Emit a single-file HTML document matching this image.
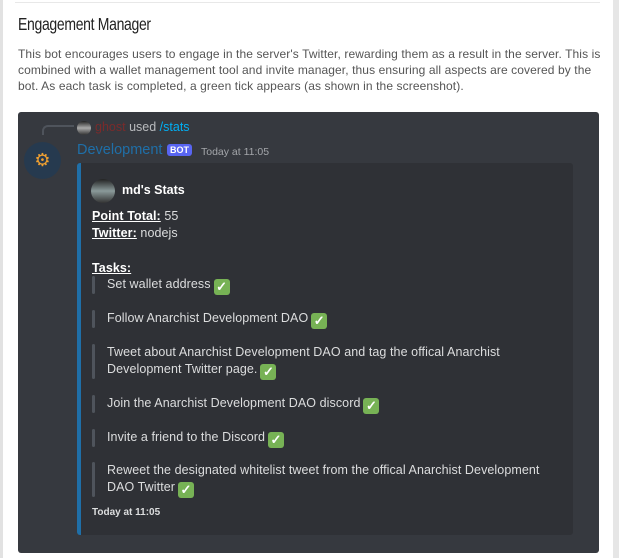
<!DOCTYPE html>
<html><head><meta charset="utf-8"><style>
*{margin:0;padding:0;box-sizing:border-box}
body{width:619px;height:558px;background:#fff;position:relative;overflow:hidden;font-family:"Liberation Sans",sans-serif}
.a{position:absolute;white-space:nowrap}
.p{font-size:12px;color:#555;letter-spacing:0.1px;left:18px}
.d{color:#dcddde;font-size:12.5px;letter-spacing:0.08px}
.bar{position:absolute;left:92px;width:3px;background:#4f545c;border-radius:2px}
.t{display:inline-block;width:16px;height:16px;background:#77b255;border-radius:3px;color:#fff;font-size:13px;font-weight:bold;text-align:center;line-height:16px;vertical-align:-3px;margin-left:3px}
.u{font-weight:bold;text-decoration:underline;color:#fff}
</style></head><body>
<div class="a" style="left:0;top:0;width:3px;height:558px;background:#e2e2e2"></div>
<div class="a" style="left:613px;top:0;width:6px;height:558px;background:#e6e6e6"></div>
<div class="a" style="left:15px;top:2px;width:585px;height:1px;background:#e8e8e8"></div>
<div class="a" style="left:18px;top:14px;font-size:17.5px;color:#222;letter-spacing:-0.4px;transform:scaleX(0.8);transform-origin:left">Engagement Manager</div>
<div class="a p" style="top:47px">This bot encourages users to engage in the server's Twitter, rewarding them as a result in the server. This is</div>
<div class="a p" style="top:63px">combined with a wallet management tool and invite manager, thus ensuring all aspects are covered by the</div>
<div class="a p" style="top:79px">bot. As each task is completed, a green tick appears (as shown in the screenshot).</div>

<div class="a" style="left:18px;top:112px;width:581px;height:441px;background:#36393f;border-radius:3px"></div>
<div class="a" style="left:42px;top:125px;width:32px;height:10px;border-left:2px solid #4f545c;border-top:2px solid #4f545c;border-top-left-radius:6px"></div>
<div class="a" style="left:77px;top:121px;width:14px;height:14px;border-radius:50%;background:linear-gradient(#222,#aaa,#333)"></div>
<div class="a" style="left:95px;top:120px;font-size:12.5px"><span style="color:#7a2b2b">ghost</span> <span style="color:#b9bbbe">used</span> <span style="color:#00aff4">/stats</span></div>
<div class="a" style="left:24px;top:142px;width:37px;height:37px;border-radius:50%;background:#263a4f;color:#f0a030;font-size:18px;text-align:center;line-height:37px">⚙</div>
<div class="a" style="left:77px;top:142px;font-size:14.5px;color:#1f6fa8">Development</div>
<div class="a" style="left:167px;top:144px;background:#5865f2;color:#fff;font-size:9px;font-weight:bold;padding:1px 3px;border-radius:3px">BOT</div>
<div class="a" style="left:201px;top:146px;font-size:10.5px;color:#a3a6aa">Today at 11:05</div>

<div class="a" style="left:77px;top:163px;width:496px;height:372px;background:#2f3136;border-left:4px solid #1f6fa8;border-radius:3px"></div>
<div class="a" style="left:91px;top:179px;width:24px;height:24px;border-radius:50%;background:linear-gradient(#222,#8a9a9a,#333)"></div>
<div class="a" style="left:122px;top:183px;font-size:12.5px;font-weight:bold;color:#fff">md's Stats</div>
<div class="a d" style="left:92px;top:209px"><span class="u">Point Total:</span> 55</div>
<div class="a d" style="left:92px;top:226px"><span class="u">Twitter:</span> nodejs</div>
<div class="a d" style="left:92px;top:261px"><span class="u">Tasks:</span></div>

<div class="bar" style="top:276px;height:18px"></div>
<div class="a d" style="left:107px;top:277px">Set wallet address<span class="t">✓</span></div>
<div class="bar" style="top:310px;height:18px"></div>
<div class="a d" style="left:107px;top:311px">Follow Anarchist Development DAO<span class="t">✓</span></div>
<div class="bar" style="top:344px;height:35px"></div>
<div class="a d" style="left:107px;top:345px">Tweet about Anarchist Development DAO and tag the offical Anarchist</div>
<div class="a d" style="left:107px;top:362px">Development Twitter page.<span class="t">✓</span></div>
<div class="bar" style="top:395px;height:18px"></div>
<div class="a d" style="left:107px;top:396px">Join the Anarchist Development DAO discord<span class="t">✓</span></div>
<div class="bar" style="top:429px;height:18px"></div>
<div class="a d" style="left:107px;top:430px">Invite a friend to the Discord<span class="t">✓</span></div>
<div class="bar" style="top:462px;height:35px"></div>
<div class="a d" style="left:107px;top:463px">Reweet the designated whitelist tweet from the offical Anarchist Development</div>
<div class="a d" style="left:107px;top:480px">DAO Twitter<span class="t">✓</span></div>
<div class="a" style="left:92px;top:507px;font-size:10px;font-weight:bold;color:#dcddde">Today at 11:05</div>
</body></html>
